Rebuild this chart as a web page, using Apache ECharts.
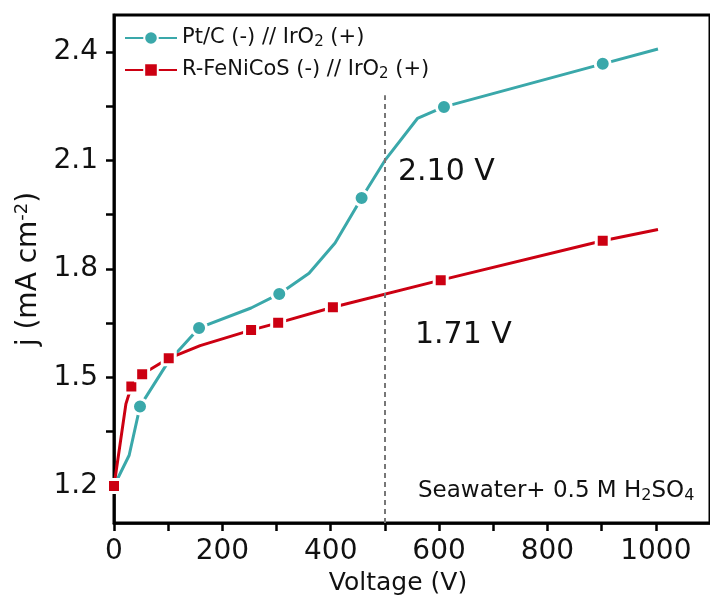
<!DOCTYPE html>
<html>
<head>
<meta charset="utf-8">
<script src="https://cdn.jsdelivr.net/npm/echarts@6/dist/echarts.min.js"></script>
<style>
  html, body { margin: 0; padding: 0; background: #fff; }
  #main { width: 710px; height: 606px; }
</style>
</head>
<body>
<div id="main"></div>
<script>
  // 数据
  var ptcName = 'Pt/C (-) // IrO2 (+)';
  var ptcV = [0, 28, 48, 100, 157, 253, 305, 360, 408, 457, 500, 560, 609, 902, 1004];
  var ptcJ = [1.2, 1.285, 1.42, 1.543, 1.637, 1.692, 1.731, 1.788, 1.872, 1.996, 2.10, 2.216, 2.248, 2.367, 2.408];
  var ptcMark = [0, 0, 1, 0, 1, 0, 1, 0, 0, 1, 0, 0, 1, 1, 0];

  var feName = 'R-FeNiCoS (-) // IrO2 (+)';
  var feV = [0, 22, 32, 52, 101, 159, 253, 303, 404, 603, 902, 1004];
  var feJ = [1.2, 1.427, 1.475, 1.509, 1.553, 1.588, 1.631, 1.651, 1.694, 1.769, 1.878, 1.909];
  var feMark = [1, 0, 1, 1, 1, 0, 1, 1, 1, 1, 1, 0];

  var xLabels = [0, 200, 400, 600, 800, 1000];
  var xTicks = [0, 100, 200, 300, 400, 500, 600, 700, 800, 900, 1000];
  var yLabels = [1.2, 1.5, 1.8, 2.1, 2.4];
  var yTicks = [1.2, 1.35, 1.5, 1.65, 1.8, 1.95, 2.1, 2.25, 2.4];

  var refV = 500;          // 虚线位置
  var refTop = 2.28;
  var xMin = 0, xMax = 1100;
  var yMin = 1.0977, yMax = 2.502;

  var font = "'DejaVu Sans', sans-serif";
  var colors = ['#3AA8AA', '#CC0012'];

  function build(xs, ys, marks) {
    return xs.map(function (x, i) {
      var d = { value: [x, ys[i]] };
      if (!marks[i]) d.symbol = 'none';
      return d;
    });
  }

  var myChart = echarts.init(document.getElementById('main'));
  var option = {
    animation: false,
    color: colors,
    textStyle: { fontFamily: font },
    grid: {
      left: 114,
      top: 15,
      width: 603,
      height: 508,
      show: true,
      borderColor: '#000',
      borderWidth: 3,
      backgroundColor: 'rgba(0,0,0,0)'
    },
    legend: {
      orient: 'vertical',
      left: 124,
      top: 26,
      padding: 0,
      itemWidth: 52,
      itemHeight: 17,
      itemGap: 8,
      textStyle: {
        fontFamily: font,
        fontSize: 21,
        color: '#111',
        lineHeight: 24,
        rich: {
          sub: { fontSize: 15, verticalAlign: 'bottom', padding: [10, 0, 0, 0], fontFamily: font, color: '#111' }
        }
      },
      formatter: function (name) {
        return name.replace('O2', 'O{sub|2}');
      },
      data: [ptcName, feName]
    },
    xAxis: {
      type: 'value',
      min: xMin,
      max: xMax,
      name: 'Voltage (V)',
      nameLocation: 'middle',
      nameGap: 37,
      nameTextStyle: { fontSize: 25, color: '#111', fontFamily: font, padding: [0, 28, 0, 0] },
      axisLine: { show: true, lineStyle: { color: '#000', width: 2.5 } },
      axisTick: { show: true, inside: false, length: 8, lineStyle: { width: 2.5, color: '#000' }, customValues: xTicks },
      axisLabel: {
        fontSize: 28, color: '#111', margin: 15, fontFamily: font, customValues: xLabels,
        formatter: function (v) { return String(v); }
      },
      splitLine: { show: false }
    },
    yAxis: {
      type: 'value',
      min: yMin,
      max: yMax,
      name: 'j (mA cm{sup|-2})',
      nameLocation: 'middle',
      nameGap: 66,
      nameTextStyle: {
        fontSize: 28, color: '#111', fontFamily: font,
        rich: { sup: { fontSize: 18, verticalAlign: 'top', padding: [0, 0, 12, 0], fontFamily: font, color: '#111' } }
      },
      axisLine: { show: true, lineStyle: { color: '#000', width: 2.5 } },
      axisTick: { show: true, inside: false, length: 8, lineStyle: { width: 2.5, color: '#000' }, customValues: yTicks },
      axisLabel: {
        fontSize: 28, color: '#111', margin: 16, fontFamily: font, customValues: yLabels,
        formatter: function (v) { return v.toFixed(1); }
      },
      splitLine: { show: false }
    },
    series: [
      {
        name: ptcName,
        type: 'line',
        symbol: 'circle',
        symbolSize: 15,
        showAllSymbol: true,
        lineStyle: { width: 3, color: colors[0] },
        itemStyle: { color: colors[0], borderColor: '#fff', borderWidth: 3 },
        data: build(ptcV, ptcJ, ptcMark),
        markLine: {
          silent: true,
          symbol: 'none',
          label: { show: false },
          lineStyle: { color: '#777', type: [5, 4], width: 2 },
          data: [[{ coord: [refV, yMin] }, { coord: [refV, refTop] }]]
        }
      },
      {
        name: feName,
        type: 'line',
        symbol: 'rect',
        symbolSize: 13,
        showAllSymbol: true,
        lineStyle: { width: 3, color: colors[1] },
        itemStyle: { color: colors[1], borderColor: '#fff', borderWidth: 3 },
        data: build(feV, feJ, feMark)
      }
    ],
    graphic: [
      { type: 'text', left: 398, top: 157, style: { text: '2.10 V', font: '30px ' + font, fill: '#111' } },
      { type: 'text', left: 415, top: 320, style: { text: '1.71 V', font: '30px ' + font, fill: '#111' } },
      {
        type: 'text', left: 418, top: 480,
        style: {
          text: 'Seawater+ 0.5 M H{s|2}SO{s|4}',
          font: '23px ' + font,
          fill: '#111',
          rich: { s: { fontSize: 16, fontFamily: font, verticalAlign: 'bottom', padding: [9, 0, 0, 0], fill: '#111' } }
        }
      }
    ]
  };
  myChart.setOption(option);
</script>
</body>
</html>
